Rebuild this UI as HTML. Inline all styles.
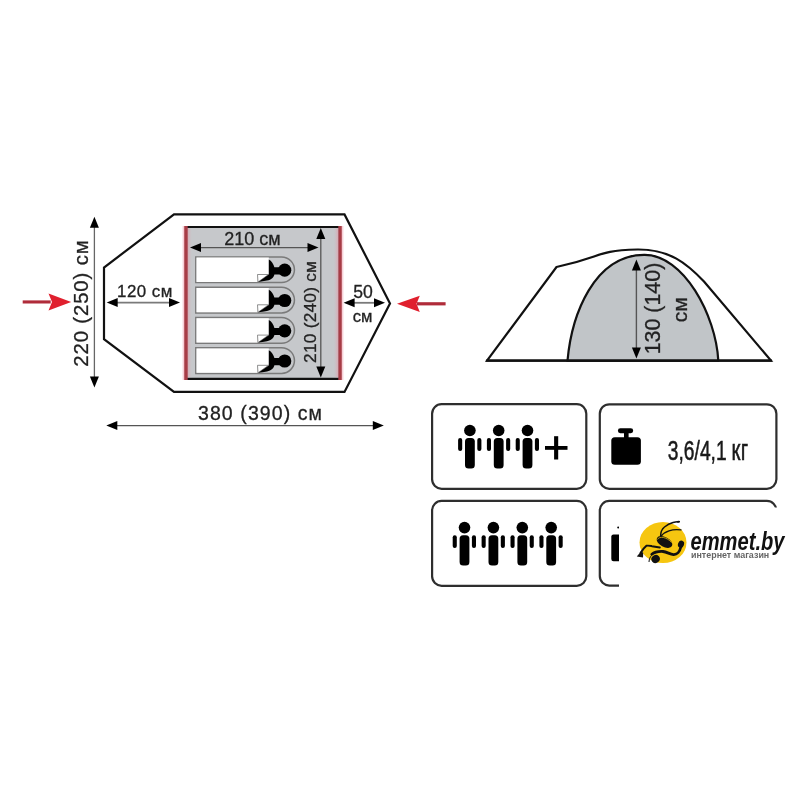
<!DOCTYPE html>
<html><head><meta charset="utf-8">
<style>
html,body{margin:0;padding:0;background:#fff;width:800px;height:800px;overflow:hidden}
svg{display:block;will-change:transform}
text{font-family:"Liberation Sans",sans-serif}
text.d{stroke:#222;stroke-width:0.3}
</style></head>
<body>
<svg width="800" height="800" viewBox="0 0 800 800">
<defs>
<path id="ah" d="M0,0 L-11,-4.5 L-11,4.5 Z" fill="#000"/>
</defs>
<rect width="800" height="800" fill="#fff"/>

<!-- ===== Left: floor plan ===== -->
<!-- outer tent outline -->
<polygon points="174,214.4 344.5,214.4 390,303.5 344.5,391.9 174,391.9 104,339.2 104,267.5" fill="#fff" stroke="#111" stroke-width="2.2" stroke-linejoin="miter"/>
<!-- inner tent -->
<rect x="186" y="227" width="154" height="152" fill="#c6c8cb"/>
<line x1="185" y1="227" x2="341" y2="227" stroke="#111" stroke-width="2.2"/>
<line x1="185" y1="378.8" x2="340" y2="378.8" stroke="#111" stroke-width="2.2"/>
<defs>
<linearGradient id="pkL" x1="0" x2="1" y1="0" y2="0"><stop offset="0" stop-color="#d9aab4"/><stop offset="1" stop-color="#c6c8cb" stop-opacity="0"/></linearGradient>
<linearGradient id="pkR" x1="1" x2="0" y1="0" y2="0"><stop offset="0" stop-color="#d9aab4"/><stop offset="1" stop-color="#c6c8cb" stop-opacity="0"/></linearGradient>
</defs>
<rect x="187.5" y="228.2" width="5" height="149" fill="url(#pkL)"/>
<rect x="333" y="228.2" width="5" height="149" fill="url(#pkR)"/>
<rect x="182.6" y="226" width="1.6" height="154" fill="#f8d0d8"/>
<rect x="341.8" y="226" width="1.6" height="154" fill="#f8d0d8"/>
<rect x="184.2" y="226" width="3.5" height="154" fill="#a83c46"/>
<rect x="338.3" y="226" width="3.5" height="154" fill="#a83c46"/>

<!-- sleeping bags -->
<g id="bag1">
<path d="M195.8,256.9 H281.6 A12.85,12.85 0 0 1 281.6,282.6 H195.8 Z" fill="#c6c8cb" stroke="#7a7a7a" stroke-width="1.5"/>
<path d="M196.5,257.6 H268.8 V274.5 H257.5 V281.9 H196.5 Z" fill="#fff"/>
<path d="M257.5,274.5 H268.5 L258,282 Z" fill="#fff" stroke="#777" stroke-width="0.8"/>
<path d="M268.8,259.4 C271.5,260.8 273.6,264 274.4,267.3 L280,267.3 L280,274.5 L274.4,274.5 C273.8,277.6 271.6,279.6 267,280.6 C264,281.2 261,281.6 258.3,281.9 L268.8,274.6 Z" fill="#000"/>
<circle cx="284.7" cy="270.2" r="6.6" fill="#000"/>
</g>
<use href="#bag1" y="30.3"/>
<use href="#bag1" y="60.6"/>
<use href="#bag1" y="90.8"/>

<!-- 210 cm horizontal arrow -->
<line x1="196" y1="247.6" x2="312" y2="247.6" stroke="#555" stroke-width="1.3"/>
<use href="#ah" transform="translate(190,247.6) rotate(180)"/>
<use href="#ah" transform="translate(318.5,247.6)"/>
<text id="210cm" class="d" x="252.5" y="244.5" font-size="18" text-anchor="middle" fill="#222">210 см</text>

<!-- 210 (240) cm vertical arrow -->
<line x1="320.8" y1="235" x2="320.8" y2="372" stroke="#555" stroke-width="1.3"/>
<use href="#ah" transform="translate(320.8,228) rotate(-90)"/>
<use href="#ah" transform="translate(320.8,377.5) rotate(90)"/>
<text id="210(240)" class="d" transform="translate(316,312) rotate(-90)" font-size="17.3" textLength="101.8" lengthAdjust="spacing" text-anchor="middle" fill="#222">210 (240) см</text>

<!-- 220 (250) vertical arrow -->
<line x1="94.4" y1="222" x2="94.4" y2="382" stroke="#666" stroke-width="1.3"/>
<use href="#ah" transform="translate(94.4,216.8) rotate(-90)"/>
<use href="#ah" transform="translate(94.4,387.6) rotate(90)"/>
<text id="220(250)" class="d" transform="translate(88,303.5) rotate(-90)" font-size="20.3" textLength="126.3" lengthAdjust="spacing" text-anchor="middle" fill="#222">220 (250) см</text>

<!-- 120 cm -->
<line x1="112" y1="302.6" x2="175" y2="302.6" stroke="#7a7a7a" stroke-width="1.8"/>
<use href="#ah" transform="translate(106.7,302.5) rotate(180)"/>
<use href="#ah" transform="translate(180,302.5)"/>
<text id="120cm" class="d" x="144.7" y="297" font-size="16.9" textLength="55.2" lengthAdjust="spacing" text-anchor="middle" fill="#222">120 см</text>

<!-- 50 cm -->
<line x1="349" y1="302.8" x2="380" y2="302.8" stroke="#7a7a7a" stroke-width="1.8"/>
<use href="#ah" transform="translate(343.6,302.8) rotate(180)"/>
<use href="#ah" transform="translate(385,302.8)"/>
<text id="50" class="d" x="363" y="297.5" font-size="17.6" text-anchor="middle" fill="#222">50</text>
<text id="cm50" class="d" x="362.5" y="322.3" font-size="16.6" text-anchor="middle" fill="#222">см</text>

<!-- 380 (390) cm -->
<line x1="112" y1="425.6" x2="378" y2="425.6" stroke="#555" stroke-width="1.3"/>
<use href="#ah" transform="translate(106.3,425.6) rotate(180)"/>
<use href="#ah" transform="translate(383.8,425.6)"/>
<text id="380" class="d" x="260" y="420.3" font-size="19.5" textLength="124" lengthAdjust="spacing" text-anchor="middle" fill="#222">380 (390) см</text>

<!-- red arrows -->
<g fill="#e0202e">
<rect x="22.7" y="300.4" width="28" height="3.1" fill="#b02c3a"/>
<path d="M71.2,301.9 L48.5,293.6 L52,301.9 L48.5,310.6 Z"/>
<rect x="417" y="302.2" width="28.6" height="3.2" fill="#b02c3a"/>
<path d="M397,303.7 L419.8,295.7 L416.5,303.7 L419.8,312 Z"/>
</g>

<!-- ===== Right: side view ===== -->
<path d="M487,360.6 L556.5,267 C605.9,256.2 593.4,250.9 637.5,249.5 C669.8,249.2 686.8,263.5 704,281.5 L771,360.6 Z" fill="#fff" stroke="#111" stroke-width="2.2" stroke-linejoin="miter"/>
<path d="M567.5,360.6 C571.7,314.7 594,255.2 644,254.9 C683.6,254.2 716,315.6 718.3,360.6 Z" fill="#c1c5c8" stroke="#111" stroke-width="2.2"/>
<line x1="486" y1="360.6" x2="772" y2="360.6" stroke="#111" stroke-width="2.4"/>
<line x1="636.4" y1="266" x2="636.4" y2="352" stroke="#555" stroke-width="1.4"/>
<use href="#ah" transform="translate(636.4,259.4) rotate(-90)"/>
<use href="#ah" transform="translate(636.4,358.5) rotate(90)"/>
<text id="130(140)" class="d" transform="translate(660.3,308.5) rotate(-90)" font-size="21.4" text-anchor="middle" fill="#222">130 (140)</text>
<text id="cm130" class="d" transform="translate(686.6,309.8) rotate(-90)" font-size="21" text-anchor="middle" fill="#222">см</text>

<!-- ===== cards ===== -->
<g fill="#fff" stroke="#2e2e2e" stroke-width="2.2">
<rect x="432.1" y="404.2" width="154.2" height="84.6" rx="9.5"/>
<rect x="599.8" y="404.3" width="176.6" height="84.5" rx="9.5"/>
<rect x="432.1" y="500.9" width="154.2" height="84.9" rx="9.5"/>
<rect x="599.8" y="500.9" width="176.6" height="84.7" rx="9.5"/>
</g>

<defs>
<g id="person">
<circle cx="0" cy="0" r="5.8"/>
<rect x="-4.9" y="7.6" width="9.8" height="30.3" rx="3.5"/>
<rect x="-11.8" y="7.6" width="4.1" height="12.9" rx="2"/>
<rect x="7.4" y="7.6" width="4.1" height="12.9" rx="2"/>
</g>
</defs>
<g fill="#000">
<use href="#person" x="469.9" y="430.5"/>
<use href="#person" x="498.7" y="430.5"/>
<use href="#person" x="527.5" y="430.5"/>
<rect x="545" y="446" width="22.5" height="3.8"/>
<rect x="554.1" y="436.2" width="4.1" height="23.3"/>
<use href="#person" x="464.5" y="527.6"/>
<use href="#person" x="493.4" y="527.6"/>
<use href="#person" x="522.3" y="527.6"/>
<use href="#person" x="551.2" y="527.6"/>
</g>

<!-- weight icon -->
<g fill="#000">
<rect x="617.9" y="428.3" width="15.3" height="4.9" rx="2.45"/>
<rect x="624" y="432" width="4.6" height="6"/>
<rect x="611.3" y="437.2" width="29.6" height="27.6" rx="3.5"/>
</g>
<text id="3,6" x="0" y="0" font-size="27.5" fill="#1a1a1a" stroke="#1a1a1a" stroke-width="0.55" transform="translate(667.8,460) scale(0.7,1)">3,6/4,1<tspan dx="7" font-size="29" letter-spacing="0.5">кг</tspan></text>

<!-- overlay for logo -->
<rect x="611.3" y="534.4" width="12" height="26.8" rx="2.2" fill="#000"/>
<circle cx="618.2" cy="527.5" r="1" fill="#000"/>
<rect x="619" y="507.5" width="181" height="100" fill="#fff"/>

<!-- emmet logo -->
<ellipse cx="663" cy="542.5" rx="23.5" ry="20.6" fill="#f6c610"/>
<g fill="none" stroke="#111" stroke-linecap="round">
<path d="M660.6,536.2 C660.6,532 662,529 664.5,527 C667,525 670,523.4 673,522.5 C675,522 677,521.8 679,521.6" stroke-width="1.5"/>
<path d="M661.2,536 C663,533.5 666,531.8 669,530.8 C672.5,529.6 676,529.2 681,529.9" stroke-width="1.3"/>
<path d="M640.5,553 C642,550.5 644,547.8 646.4,545.8 C648,545.3 650,545.8 652,546.2 L659.8,547.4" stroke-width="2"/>
<path d="M651.8,554.3 C654.5,552 659,551.3 663,551.5 C667,552 670,554.3 673.5,554.6 C677,554.8 679.8,551.5 680.8,547 L681,543.5" stroke-width="2.8"/>
</g>
<g fill="#111">
<path d="M636.8,556.6 L641.2,551.3 L643.2,552.8 L643,557.6 Z"/>
<path d="M678.6,521 C680,520.8 680.5,521.5 679.6,522.6 L676.8,523 Z"/>
<ellipse cx="681" cy="544.2" rx="3" ry="3.6" transform="rotate(20 681 544.2)"/>
<ellipse cx="664.5" cy="542" rx="8.5" ry="4.9" transform="rotate(28 664.5 542)"/>
<ellipse cx="655.6" cy="559" rx="4.3" ry="3.9" transform="rotate(-35 655.6 559)"/>
<path d="M649,562 C649.2,559 650,557 651.5,555.5" fill="none" stroke="#111" stroke-width="1"/>
</g>
<path d="M657.3,539.6 C658.2,537.8 660.5,537 663.5,537.5 C666.5,538.2 669.5,540 671.5,542.5" fill="none" stroke="#f6c610" stroke-width="0.7"/>
<text id="emmet" x="0" y="0" transform="translate(690.5,549.7) scale(0.79,1)" font-size="25.5" font-weight="bold" font-style="italic" fill="#111">emmet.by</text>
<text id="inet" x="0" y="0" transform="translate(691,557.8) scale(0.95,1)" font-size="9.4" font-weight="bold" fill="#666">интернет магазин</text>
</svg>
</body></html>
